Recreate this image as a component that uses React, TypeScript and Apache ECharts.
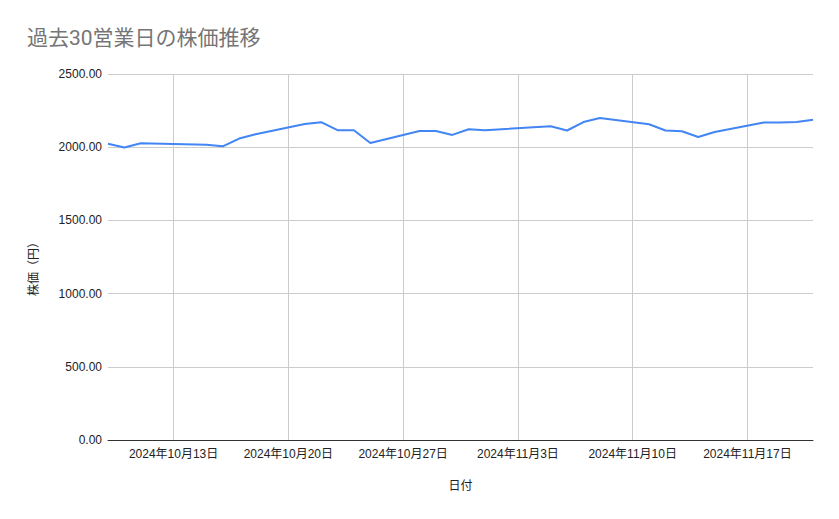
import React, { useEffect, useRef } from "react";
import * as echarts from "echarts";

const titleText = "過去30営業日の株価推移";
const xAxisName = "日付";
const yAxisName = "株価（円）";

const dates = [
  "2024-10-09", "2024-10-10", "2024-10-11", "2024-10-15", "2024-10-16",
  "2024-10-17", "2024-10-18", "2024-10-21", "2024-10-22", "2024-10-23",
  "2024-10-24", "2024-10-25", "2024-10-28", "2024-10-29", "2024-10-30",
  "2024-10-31", "2024-11-01", "2024-11-05", "2024-11-06", "2024-11-07",
  "2024-11-08", "2024-11-11", "2024-11-12", "2024-11-13", "2024-11-14",
  "2024-11-15", "2024-11-18", "2024-11-19", "2024-11-20", "2024-11-21",
];

const prices = [
  2024, 1998, 2027, 2016, 2006,
  2059, 2088, 2158, 2171, 2116,
  2116, 2029, 2110, 2110, 2084,
  2123, 2116, 2143, 2114, 2172,
  2200, 2157, 2114, 2109, 2070,
  2104, 2169, 2169, 2172, 2188,
];

const xTickDates = [
  "2024-10-13", "2024-10-20", "2024-10-27", "2024-11-03", "2024-11-10", "2024-11-17",
];

const yMin = 0;
const yMax = 2500;
const yInterval = 500;

const toTs = (s: string) => Date.parse(s + "T00:00:00Z");
const fmtDate = (v: number) => {
  const d = new Date(v);
  return `${d.getUTCFullYear()}年${d.getUTCMonth() + 1}月${d.getUTCDate()}日`;
};

const FONT = "'Liberation Sans', Arial, 'Noto Sans CJK JP', sans-serif";
const TITLE_FONT = "Roboto, 'Liberation Sans', 'Noto Sans CJK JP', sans-serif";

export default function App() {
  const ref = useRef<HTMLDivElement>(null);

  useEffect(() => {
    document.body.style.margin = "0";
    if (!ref.current) return;
    const chart = echarts.init(ref.current, undefined, { renderer: "svg" });
    const seriesData = dates.map((d, i) => [toTs(d), prices[i]]);
    chart.setOption({
      animation: false,
      backgroundColor: "#ffffff",
      textStyle: { fontFamily: FONT },
      title: {
        text: titleText,
        left: 27,
        top: 27,
        padding: 0,
        textStyle: {
          fontSize: 21,
          fontWeight: "normal",
          color: "#757575",
          fontFamily: TITLE_FONT,
        },
      },
      grid: {
        left: 108,
        right: 26,
        top: 74,
        bottom: 79,
        containLabel: false,
        outerBoundsMode: "none",
      },
      xAxis: {
        type: "value",
        min: toTs(dates[0]),
        max: toTs(dates[dates.length - 1]),
        name: xAxisName,
        nameLocation: "middle",
        nameGap: 40,
        nameTextStyle: { fontSize: 12, color: "#222222", fontFamily: FONT },
        axisLine: { show: true, lineStyle: { color: "#333333", width: 1 } },
        axisTick: { show: false, customValues: xTickDates.map(toTs) },
        axisLabel: {
          customValues: xTickDates.map(toTs),
          formatter: (v: number) => fmtDate(v),
          fontSize: 12,
          color: "#222222",
          margin: 8,
          fontFamily: FONT,
        },
        splitLine: { show: true, lineStyle: { color: "#cccccc", width: 1 } },
      },
      yAxis: {
        type: "value",
        min: yMin,
        max: yMax,
        interval: yInterval,
        name: yAxisName,
        nameLocation: "middle",
        nameGap: 68,
        nameRotate: 90,
        nameTextStyle: {
          fontSize: 12,
          color: "#222222",
          fontFamily: FONT,
          padding: [0, 18, 0, 0],
        },
        axisLine: { show: false },
        axisTick: { show: false },
        axisLabel: {
          formatter: (v: number) => v.toFixed(2),
          fontSize: 12,
          color: "#222222",
          margin: 6,
          fontFamily: FONT,
        },
        splitLine: { show: true, lineStyle: { color: "#cccccc", width: 1 } },
      },
      series: [
        {
          type: "line",
          data: seriesData,
          showSymbol: false,
          symbol: "none",
          lineStyle: { color: "#4285f4", width: 2 },
          itemStyle: { color: "#4285f4" },
        },
      ],
    });
    return () => chart.dispose();
  }, []);

  return <div ref={ref} style={{ width: 839, height: 519 }} />;
}
